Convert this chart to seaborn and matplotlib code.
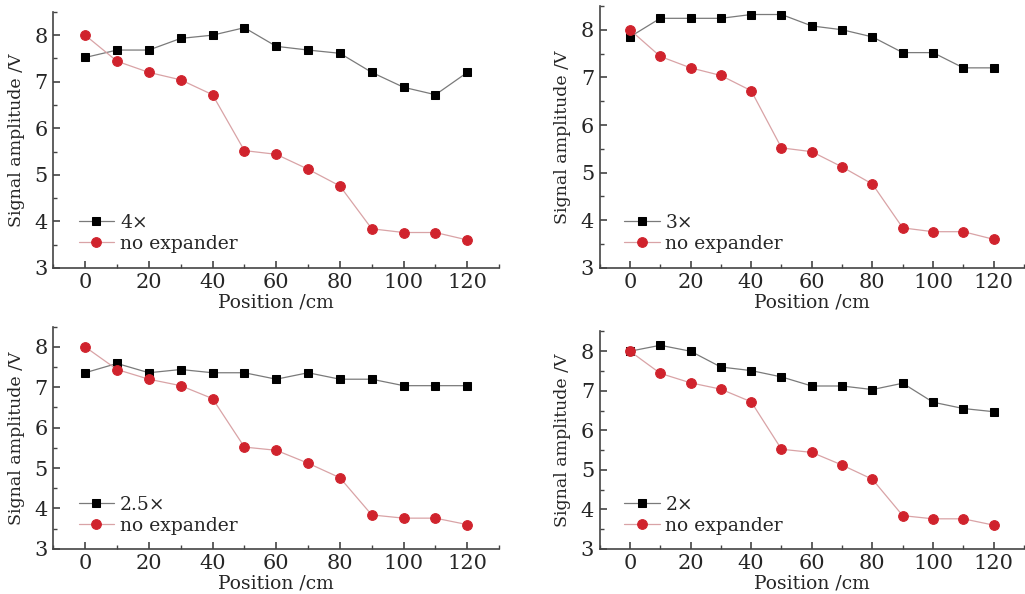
import matplotlib
matplotlib.use('Agg')

import numpy as np
import pandas as pd
import seaborn as sns
from matplotlib import pyplot as plt
from matplotlib.ticker import MultipleLocator

# Data
position = [0, 10, 20, 30, 40, 50, 60, 70, 80, 90, 100, 110, 120]
no_expander = [8.0, 7.44, 7.2, 7.04, 6.72, 5.52, 5.44, 5.12, 4.76, 3.84, 3.76, 3.76, 3.6]
exp_4x = [7.52, 7.68, 7.68, 7.93, 8.0, 8.16, 7.76, 7.68, 7.61, 7.2, 6.88, 6.72, 7.2]
exp_3x = [7.85, 8.24, 8.24, 8.24, 8.32, 8.32, 8.08, 8.0, 7.85, 7.52, 7.52, 7.2, 7.2]
exp_25x = [7.36, 7.59, 7.36, 7.44, 7.36, 7.36, 7.2, 7.36, 7.2, 7.2, 7.04, 7.04, 7.04]
exp_2x = [8.0, 8.15, 8.0, 7.6, 7.51, 7.35, 7.12, 7.12, 7.03, 7.19, 6.71, 6.55, 6.47]

panel_labels = ['4\u00d7', '3\u00d7', '2.5\u00d7', '2\u00d7']
panel_series = [exp_4x, exp_3x, exp_25x, exp_2x]

sns.set_style('white')
plt.rcParams['font.family'] = ['DejaVu Serif']
plt.rcParams['mathtext.fontset'] = 'dejavuserif'

fig = plt.figure(figsize=(10.25, 5.94), dpi=100)

# axes boxes in figure fractions [left, bottom, width, height]
boxes = [
    [0.052, 0.549, 0.435, 0.431],
    [0.585, 0.549, 0.414, 0.441],
    [0.052, 0.076, 0.435, 0.374],
    [0.585, 0.076, 0.414, 0.366],
]

RED = '#d0232d'
spine_col = '#444444'

for box, label, series in zip(boxes, panel_labels, panel_series):
    ax = fig.add_axes(box)
    df = pd.DataFrame({'Position': position, label: series,
                       'no expander': no_expander})

    sns.lineplot(data=df, x='Position', y=label, ax=ax, color='#7a7a7a',
                 linewidth=0.9, marker='s', markersize=5.5,
                 markerfacecolor='black', markeredgecolor='black',
                 label=label, zorder=2)
    sns.lineplot(data=df, x='Position', y='no expander', ax=ax, color='#d9a3a6',
                 linewidth=0.9, marker='o', markersize=7,
                 markerfacecolor=RED, markeredgecolor=RED,
                 label='no expander', zorder=3)

    ax.set_xlim(-10, 130)
    ax.set_ylim(3, 8.5)
    ax.xaxis.set_major_locator(MultipleLocator(20))
    ax.xaxis.set_minor_locator(MultipleLocator(10))
    ax.yaxis.set_major_locator(MultipleLocator(1))
    ax.yaxis.set_minor_locator(MultipleLocator(0.5))

    for side in ['top', 'right']:
        ax.spines[side].set_visible(False)
    for side in ['left', 'bottom']:
        ax.spines[side].set_color(spine_col)
        ax.spines[side].set_linewidth(1.2)

    ax.tick_params(which='major', direction='in', length=5, width=1.2,
                   color=spine_col, labelsize=15, pad=4)
    ax.tick_params(which='minor', direction='in', length=3, width=1.0,
                   color=spine_col)
    ax.tick_params(axis='x', which='both', bottom=True)
    ax.tick_params(axis='y', which='both', left=True)

    ax.set_xlabel('Position /cm', fontsize=13.5, labelpad=1)
    ax.set_ylabel('Signal amplitude /V', fontsize=12.5, labelpad=7)

    leg = ax.legend(loc='lower left', bbox_to_anchor=(0.04, 0.03),
                    frameon=False, fontsize=13.5, handlelength=1.9,
                    handletextpad=0.3, labelspacing=0.15, borderaxespad=0)

fig.savefig('out.png', dpi=100)
